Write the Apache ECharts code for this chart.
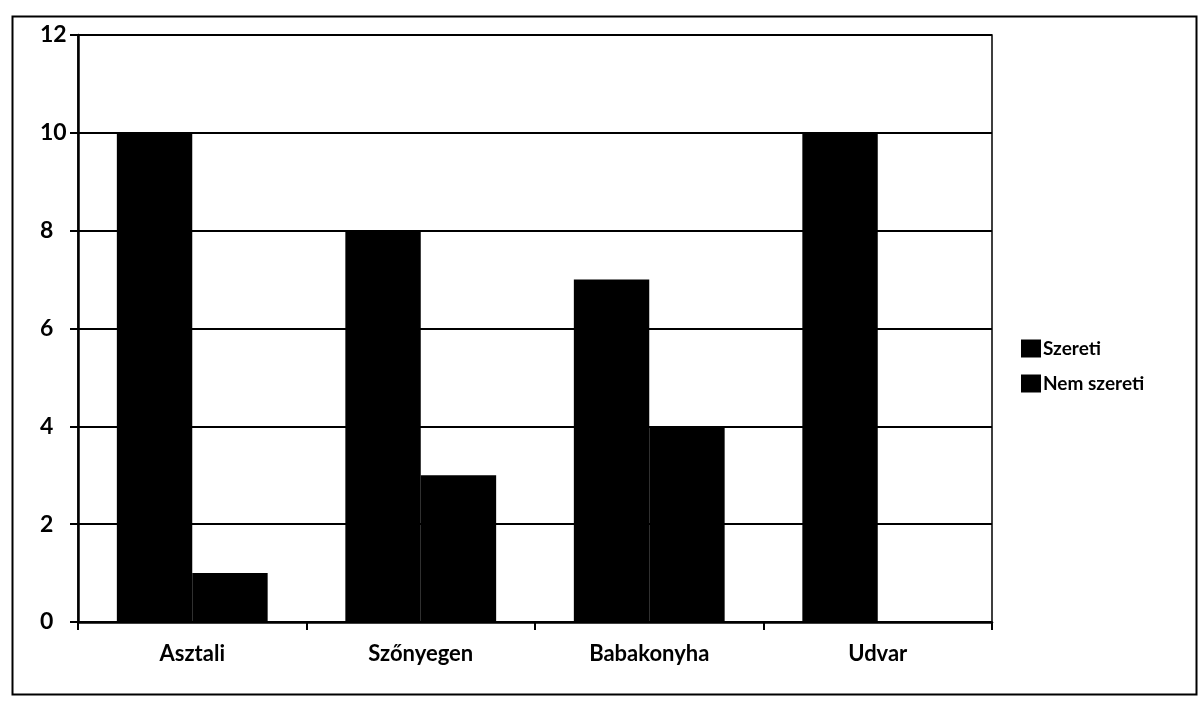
<!DOCTYPE html>
<html>
<head>
<meta charset="utf-8">
<script src="https://cdn.jsdelivr.net/npm/echarts@6/dist/echarts.min.js"></script>
<style>html,body{margin:0;padding:0;background:#fff;}#c{width:1199px;height:703px;}</style>
</head>
<body>
<div id="c"></div>
<script>
const categories = ['Asztali', 'Szőnyegen', 'Babakonyha', 'Udvar'];
const szeretiValues = [10, 8, 7, 10];
const nemSzeretiValues = [1, 3, 4, 0];
const seriesNames = ['Szereti', 'Nem szereti'];
const yMin = 0, yMax = 12, yStep = 2;

const chart = echarts.init(document.getElementById('c'));
const font = 'Lato, "Open Sans", sans-serif';
chart.setOption({
  animation: false,
  backgroundColor: '#fff',
  graphic: [{
    type: 'rect', left: 10, top: 14, silent: true,
    shape: { width: 1184, height: 678 },
    style: { fill: 'none', stroke: '#000', lineWidth: 2 }
  }],
  grid: { left: 78, right: 207, top: 35, bottom: 81, show: true, borderColor: '#000', borderWidth: 1.5, backgroundColor: 'transparent' },
  legend: {
    orient: 'vertical', left: 1016, top: 334,
    itemWidth: 20, itemHeight: 18, itemGap: 16,
    icon: 'rect',
    textStyle: { color: '#000', fontFamily: font, fontWeight: 'bold', fontSize: 19, padding: [0, 0, 0, -3] },
    data: seriesNames
  },
  xAxis: {
    type: 'category', data: categories,
    axisLine: { lineStyle: { color: '#000', width: 2.5 } },
    axisTick: { show: true, length: 8, lineStyle: { color: '#000', width: 2 } },
    axisLabel: { color: '#000', fontFamily: font, fontWeight: 'bold', fontSize: 22, margin: 21 }
  },
  yAxis: {
    type: 'value', min: yMin, max: yMax, interval: yStep,
    axisLine: { show: true, lineStyle: { color: '#000', width: 2.5 } },
    axisTick: { show: true, length: 8, lineStyle: { color: '#000', width: 2 } },
    splitLine: { lineStyle: { color: '#000', width: 2 } },
    axisLabel: { color: '#000', fontFamily: font, fontWeight: 'bold', fontSize: 23, align: 'left', margin: 38 }
  },
  series: [
    { name: seriesNames[0], type: 'bar', data: szeretiValues, itemStyle: { color: '#000' }, barGap: '0%', barCategoryGap: '34%' },
    { name: seriesNames[1], type: 'bar', data: nemSzeretiValues, itemStyle: { color: '#000' }, barGap: '0%', barCategoryGap: '34%' }
  ]
});
</script>
</body>
</html>
